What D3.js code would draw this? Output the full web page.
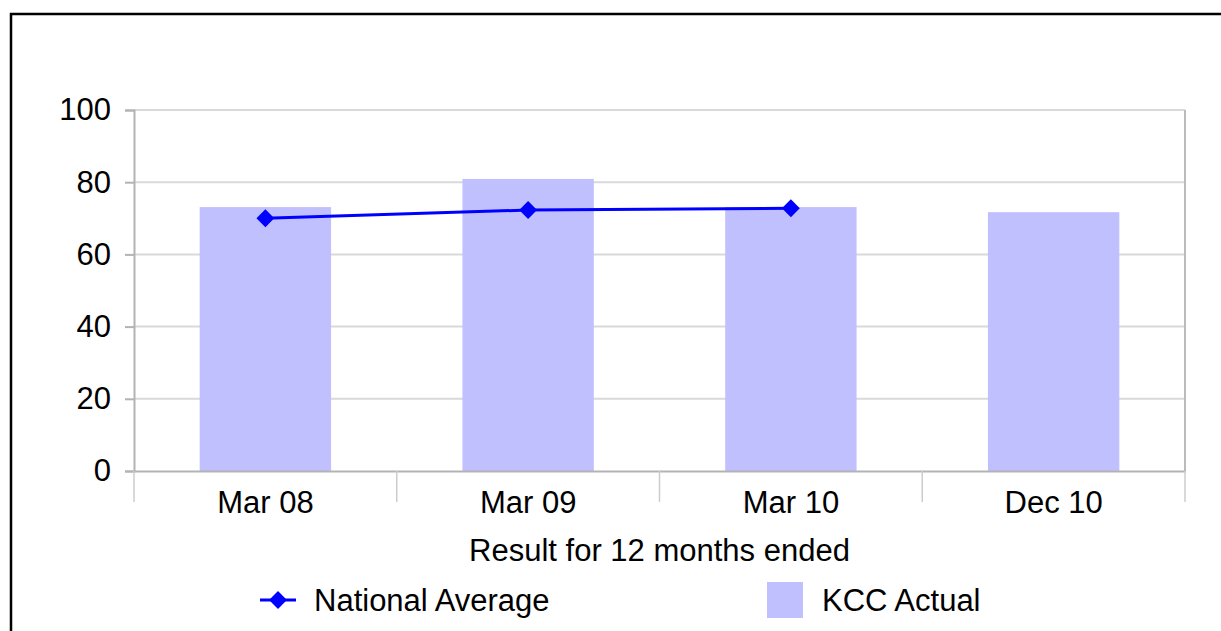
<!DOCTYPE html>
<html>
<head>
  <meta charset="utf-8">
  <title>KCC Actual vs National Average</title>
  <style>
    body { margin: 0; background: #fff; }
    text { font-family: "Liberation Sans", Arial, sans-serif; fill: #000; }
  </style>
</head>
<body>
  <script src="https://cdn.jsdelivr.net/npm/d3@7"></script>
  <script>
    // data
    var periods = ["Mar 08", "Mar 09", "Mar 10", "Dec 10"];
    var kccActual = [73.1, 80.9, 73.1, 71.7];
    var nationalAvg = [70.0, 72.3, 72.8];   // no value for Dec 10
    var yTicks = [0, 20, 40, 60, 80, 100];

    var width = 1221, height = 631;
    var margin = {top: 110, right: 36, bottom: 160, left: 134};
    var fontSize = 31;

    var svg = d3.select("body").append("svg")
      .attr("width", width)
      .attr("height", height);

    // outer frame (only top / left edges show in the window)
    svg.append("rect")
      .attr("x", 11).attr("y", 14)
      .attr("width", 1400).attr("height", 800)
      .attr("fill", "none")
      .attr("stroke", "#000")
      .attr("stroke-width", 2.5);

    var x = d3.scaleBand().domain(periods)
      .range([margin.left, width - margin.right])
      .paddingInner(0.5).paddingOuter(0.25);
    var xEdge = d3.scaleBand().domain(periods)
      .range([margin.left, width - margin.right]);
    var y = d3.scaleLinear().domain([0, 100])
      .range([height - margin.bottom, margin.top]);

    var plotL = margin.left, plotR = width - margin.right;

    // gridlines
    svg.append("g").attr("id", "grid")
      .selectAll("line").data(yTicks.slice(1)).enter()
      .append("line")
      .attr("x1", plotL).attr("x2", plotR)
      .attr("y1", function(d) { return y(d); })
      .attr("y2", function(d) { return y(d); })
      .attr("stroke", "#d9d9d9").attr("stroke-width", 2);

    // right border of plot
    svg.append("line")
      .attr("x1", plotR).attr("x2", plotR)
      .attr("y1", y(100)).attr("y2", y(0))
      .attr("stroke", "#bbbbbb").attr("stroke-width", 2);

    // bars
    svg.append("g").attr("id", "bars")
      .selectAll("rect").data(periods).enter()
      .append("rect")
      .attr("x", function(d) { return x(d); })
      .attr("width", x.bandwidth())
      .attr("y", function(d, i) { return y(kccActual[i]); })
      .attr("height", function(d, i) { return y(0) - y(kccActual[i]); })
      .attr("fill", "#c0c0ff");

    // y axis
    var yAxis = svg.append("g")
      .attr("transform", "translate(" + plotL + ",0)")
      .call(d3.axisLeft(y).tickValues(yTicks).tickSize(9).tickPadding(14));
    yAxis.select(".domain").attr("stroke", "#b3b3b3").attr("stroke-width", 2);
    yAxis.selectAll(".tick line").attr("stroke", "#b3b3b3").attr("stroke-width", 2);
    yAxis.selectAll("text").style("font-size", fontSize + "px")
      .style("font-family", "Liberation Sans, Arial, sans-serif").attr("fill", "#000");

    // x axis: baseline + category dividers
    var xAxis = svg.append("g")
      .attr("transform", "translate(0," + y(0) + ")")
      .call(d3.axisBottom(xEdge).tickSize(0).tickPadding(20));
    xAxis.select(".domain").attr("stroke", "#b3b3b3").attr("stroke-width", 2);
    xAxis.selectAll("text").style("font-size", fontSize + "px")
      .style("font-family", "Liberation Sans, Arial, sans-serif").attr("fill", "#000");
    var edges = periods.map(function(d) { return xEdge(d); }).concat([plotR]);
    xAxis.selectAll(".divider").data(edges).enter()
      .append("line").attr("class", "divider")
      .attr("x1", function(d) { return d; }).attr("x2", function(d) { return d; })
      .attr("y1", 0).attr("y2", 31)
      .attr("stroke", "#cccccc").attr("stroke-width", 1.5);

    // x axis title
    svg.append("text")
      .attr("x", (plotL + plotR) / 2)
      .attr("y", 561)
      .attr("text-anchor", "middle")
      .style("font-size", fontSize + "px")
      .text("Result for 12 months ended");

    // national average line
    var line = d3.line()
      .x(function(d, i) { return x(periods[i]) + x.bandwidth() / 2; })
      .y(function(d) { return y(d); });
    svg.append("path")
      .attr("d", line(nationalAvg))
      .attr("fill", "none")
      .attr("stroke", "#0000ff")
      .attr("stroke-width", 3);

    var diamond = d3.symbol().type(d3.symbolSquare).size(160);
    svg.append("g").attr("id", "markers")
      .selectAll("path").data(nationalAvg).enter()
      .append("path")
      .attr("d", diamond)
      .attr("transform", function(d, i) {
        return "translate(" + (x(periods[i]) + x.bandwidth() / 2) + "," + y(d) + ") rotate(45)";
      })
      .attr("fill", "#0000ff");

    // legend
    var leg = svg.append("g").attr("id", "legend");
    leg.append("line")
      .attr("x1", 260).attr("x2", 296).attr("y1", 600).attr("y2", 600)
      .attr("stroke", "#0000ff").attr("stroke-width", 3);
    leg.append("path")
      .attr("d", diamond)
      .attr("transform", "translate(278,600) rotate(45)")
      .attr("fill", "#0000ff");
    leg.append("text")
      .attr("x", 314).attr("y", 611)
      .style("font-size", fontSize + "px")
      .text("National Average");
    leg.append("rect")
      .attr("x", 767).attr("y", 582).attr("width", 36).attr("height", 36)
      .attr("fill", "#c0c0ff");
    leg.append("text")
      .attr("x", 822).attr("y", 611)
      .style("font-size", fontSize + "px")
      .text("KCC Actual");
  </script>
</body>
</html>
